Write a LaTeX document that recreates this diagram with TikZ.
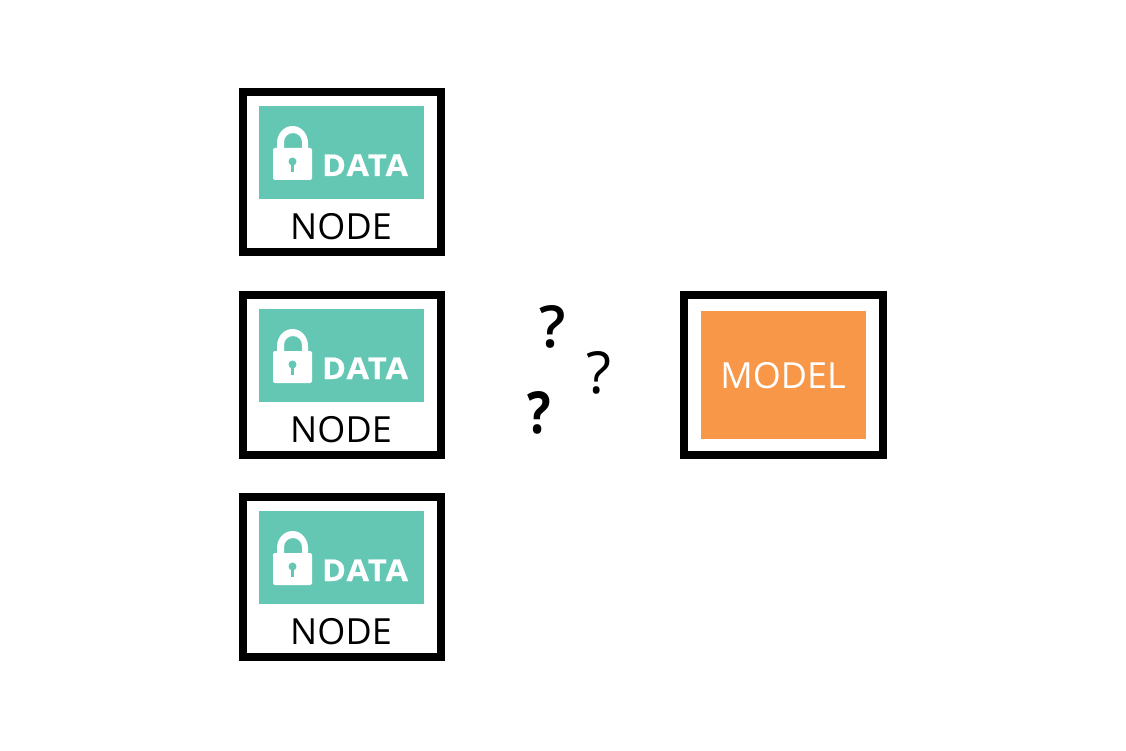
\documentclass[tikz,border=0pt]{standalone}
\usepackage{fontspec}
\setmainfont{Open Sans}
\newfontfamily\semifont{Open Sans Semibold}
\newfontfamily\capfont[LetterSpace=0.5]{Open Sans}
\newfontfamily\modelfont[LetterSpace=0]{Open Sans}
\newfontfamily\datafont[LetterSpace=4,FakeStretch=1.08,FakeBold=0.6]{Open Sans Bold}
\newfontfamily\heavyfont[FakeStretch=0.85]{Open Sans Bold}
\definecolor{teal1}{HTML}{64C7B4}
\definecolor{orange1}{HTML}{F99749}
\tikzset{
  x=1pt,y=-1pt,
  frame/.style={draw=black,line width=8pt,fill=white,minimum width=198pt,inner sep=0pt,anchor=north west},
  nodeframe/.style={frame,minimum height=160pt},
  modelframe/.style={frame,minimum width=199pt,minimum height=160pt},
  databox/.style={fill=teal1,minimum width=165pt,minimum height=93pt,inner sep=0pt,anchor=north west},
  modelbox/.style={fill=orange1,minimum width=165pt,minimum height=128pt,inner sep=0pt},
  caption/.style={font=\capfont\fontsize{36}{36}\selectfont,inner sep=0pt,anchor=base},
  datalabel/.style={font=\datafont\fontsize{30}{30}\selectfont,text=white,inner sep=0pt,anchor=base},
  modellabel/.style={font=\modelfont\fontsize{36}{36}\selectfont,text=white,inner sep=0pt,anchor=base},
  mark1/.style={font=\semifont\fontsize{58}{58}\selectfont,inner sep=0pt,anchor=base},
}
\begin{document}
\begin{tikzpicture}
\useasboundingbox (0,0) rectangle (1126,751);
\foreach \n/\y in {a/88,b/291,c/493}{
  \node[nodeframe] (frame\n) at (239,\y) {};
  \node[databox] (data\n) at (259,\y+18) {};
  \begin{scope}[shift={(0,\y-88)}]
    \fill[white,even odd rule] (277,150) -- (277,143) arc[start angle=180,end angle=0,x radius=15.5,y radius=-17] -- (308,150) -- cycle
      (284,150) -- (284,142) arc[start angle=180,end angle=0,x radius=9,y radius=-9] -- (302,150) -- cycle;
    \fill[white,rounded corners=2pt] (273,148) rectangle (312,180);
    \fill[teal1] (292.5,161.5) circle[radius=4];
    \fill[teal1] (290.8,162) rectangle (294.2,172);
  \end{scope}
  \node[datalabel] (dl\n) at (365,\y+88) {DATA};
  \node[caption] (cap\n) at (341,\y+151.5) {NODE};
}
\node[modelframe] (frameM) at (680,291) {};
\node[modelbox] (modelM) at (783.5,375) {};
\node[modellabel] (labelM) at (783,388) {MODEL};
\node[mark1] (q1) at (553,347) {?};
\node[mark1,font=\fontsize{58}{58}\selectfont] (q2) at (599,393) {?};
\node[mark1,font=\heavyfont\fontsize{58}{58}\selectfont] (q3) at (539,433) {?};
\end{tikzpicture}
\end{document}
